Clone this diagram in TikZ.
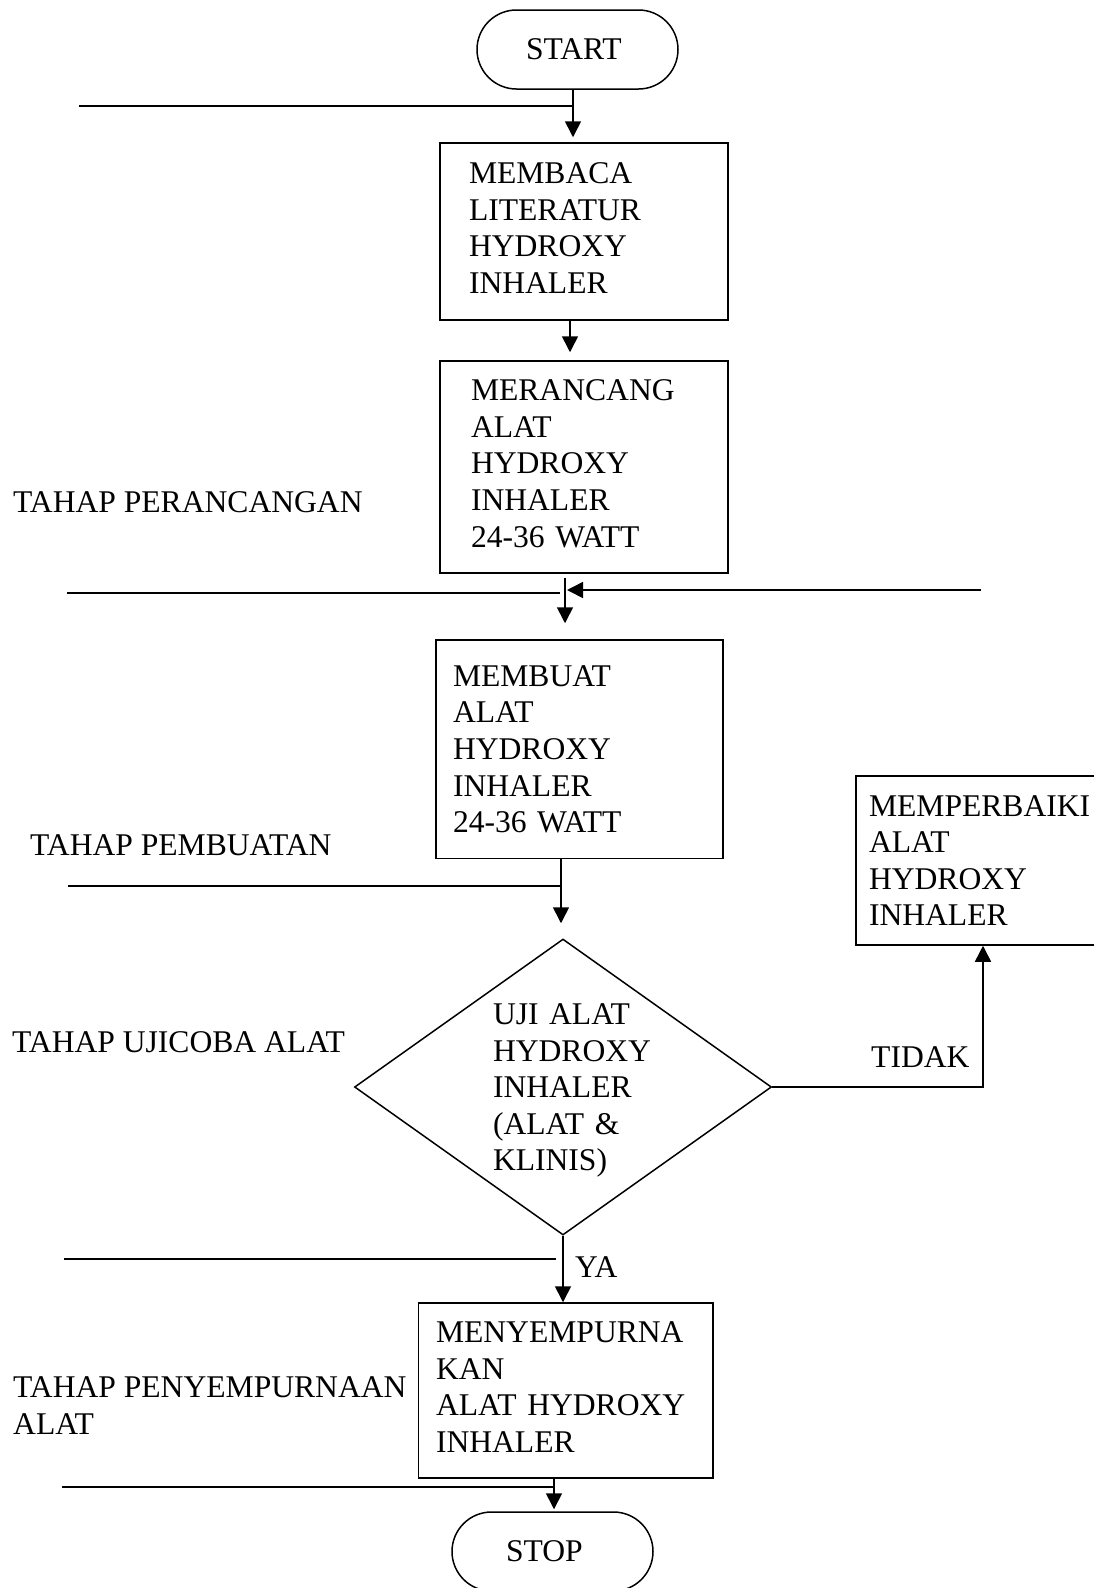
\documentclass[tikz,border=0pt]{standalone}
\usepackage{fontspec}
\setmainfont{Liberation Serif}
\usetikzlibrary{arrows.meta,shapes.geometric}
\newcommand{\lowpad}{\rule[-7pt]{0pt}{7pt}}
\newcommand{\highpad}{\rule{0pt}{28pt}}
\begin{document}
\begin{tikzpicture}[x=1pt,y=-1pt,
  every node/.style={font=\fontsize{31.6pt}{36.6pt}\selectfont, inner sep=0pt},
  ln/.style={line width=1.6pt},
  arr/.style={line width=1.6pt,-{Triangle[length=16pt,width=16pt]}},
  box/.style={draw, line width=1.5pt, align=left},
  term/.style={draw, line width=1.5pt, rounded corners=39.5pt, align=left},
  dec/.style={draw, diamond, line width=1.5pt, align=left, aspect=1.41},
  lbl/.style={anchor=base west}
]
\useasboundingbox (0,0) rectangle (1094,1588);

% terminals and process boxes
\node[term, minimum width=201pt, minimum height=79pt, text width=103pt] (start) at (577.5,49.5) {START};
\node[box, minimum width=288pt, minimum height=177pt, text width=230pt] (b1) at (584,231.5) {MEMBACA\\LITERATUR\\HYDROXY\\INHALER\lowpad};
\node[box, minimum width=288pt, minimum height=212pt, text width=226pt] (b2) at (584,467) {MERANCANG\\ALAT\\HYDROXY\\INHALER\\24-36 WATT\lowpad};
\node[box, minimum width=287pt, minimum height=218.5pt, text width=253pt] (b3) at (579.5,749.25) {MEMBUAT\\ALAT\\HYDROXY\\INHALER\\24-36 WATT};
\node[box, minimum width=244pt, minimum height=169pt, text width=218pt] (b4) at (978,860.5) {MEMPERBAIKI\\ALAT\\HYDROXY\\INHALER};
\node[dec, minimum width=417pt, minimum height=296pt, text width=140pt] (dec) at (563,1087) {\highpad UJI ALAT\\HYDROXY\\INHALER\\(ALAT \&\\KLINIS)};
\node[box, minimum width=294.5pt, minimum height=175pt, text width=259.5pt] (b5) at (565.75,1390.5) {MENYEMPURNA\\KAN\\ALAT HYDROXY\\INHALER\lowpad};
\node[term, minimum width=201pt, minimum height=79pt, text width=93pt] (stop) at (552.5,1551.5) {STOP};

% stage labels
\node[lbl] (l1) at (13,512) {TAHAP PERANCANGAN};
\node[lbl] (l2) at (30,855) {TAHAP PEMBUATAN};
\node[lbl] (l3) at (12,1052) {TAHAP UJICOBA ALAT};
\node[anchor=west, align=left] (l4) at (13,1405.5) {TAHAP PENYEMPURNAAN\\ALAT};
\node[lbl] (ya) at (575,1277) {YA};
\node[lbl] (tidak) at (871,1067) {TIDAK};

% separator lines
\coordinate (s1a) at (79,106);  \coordinate (s1b) at (573,106);
\coordinate (s2a) at (67,593);  \coordinate (s2b) at (560,593);
\coordinate (s3a) at (68,886);  \coordinate (s3b) at (561,886);
\coordinate (s4a) at (64,1259); \coordinate (s4b) at (556,1259);
\coordinate (s5a) at (62,1487); \coordinate (s5b) at (553,1487);
\draw[ln] (s1a) -- (s1b);
\draw[ln] (s2a) -- (s2b);
\draw[ln] (s3a) -- (s3b);
\draw[ln] (s4a) -- (s4b);
\draw[ln] (s5a) -- (s5b);

% connectors
\draw[arr, shorten >=5pt] ([xshift=-4.5pt]start.south) -- ([xshift=-4.5pt]start.south |- b1.north);
\draw[arr, shorten >=8pt] ([xshift=-14pt]b1.south) -- ([xshift=-14pt]b1.south |- b2.north);
\draw[arr, shorten <=4pt, shorten >=16pt] ([xshift=-19pt]b2.south) -- ([xshift=-19pt]b2.south |- b3.north);
\coordinate (rin) at (981,590);
\coordinate (rout) at (567,590);
\draw[arr] (rin) -- (rout);
\draw[arr, shorten >=15pt] ([xshift=-18.5pt]b3.south) -- ([xshift=-18.5pt]b3.south |- dec.north);
\draw[arr] (dec.south) -- (dec.south |- b5.north);
\draw[arr] (dec.east) -| ([xshift=5pt]b4.south);
\draw[arr, shorten >=2pt] ([xshift=-11.75pt]b5.south) -- ([xshift=-11.75pt]b5.south |- stop.north);
\end{tikzpicture}
\end{document}
